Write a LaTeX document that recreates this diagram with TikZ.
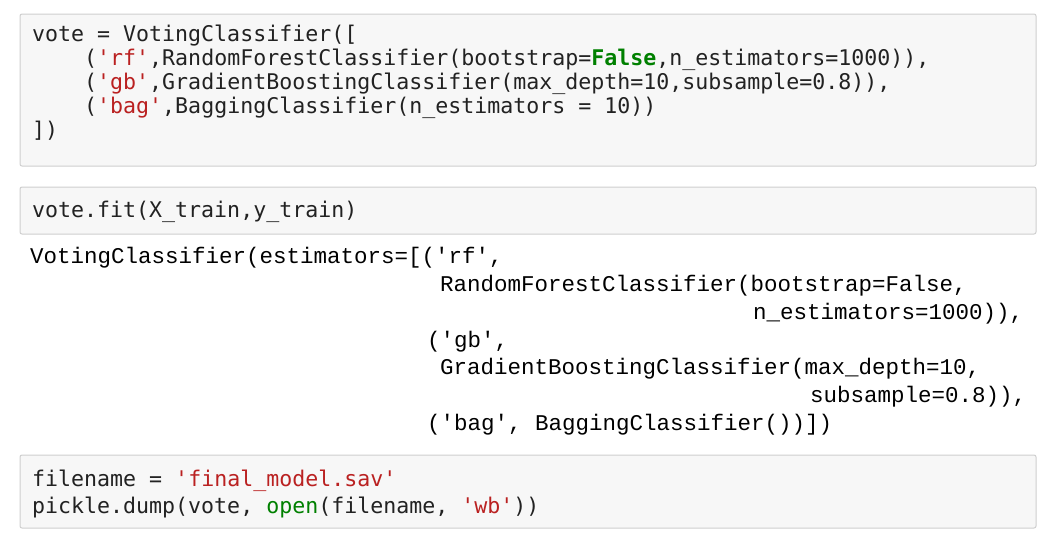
\documentclass[tikz,border=0pt]{standalone}
\usepackage{fontspec}
\newfontfamily\mono{DejaVu Sans Mono}
\newfontfamily\omono{Liberation Mono}
\definecolor{str}{HTML}{BA2121}
\definecolor{kw}{HTML}{008000}
\definecolor{cellbd}{HTML}{CFCFCF}
\definecolor{cellbg}{HTML}{F7F7F7}
\definecolor{txt}{HTML}{222222}
\newcommand{\st}[1]{\textcolor{str}{#1}}
\tikzset{
  cell/.style={draw=cellbd, fill=cellbg, rounded corners=2pt, line width=1pt},
  ln/.style={anchor=base west, inner sep=0pt, text=txt, font=\mono\fontsize{21.6}{24}\selectfont},
  outln/.style={ln, text=black, font=\omono\fontsize{22.5}{24}\selectfont}
}
\begin{document}
\begin{tikzpicture}[x=1pt,y=-1pt]
\useasboundingbox (0,0) rectangle (1057,542);
\fill[white] (0,0) rectangle (1057,542);
\draw[cell] (20,14) rectangle (1036,166);
\draw[cell] (20,187) rectangle (1036,234);
\draw[cell] (20,455) rectangle (1036,528);
\node[ln] (a1) at (32,41) {vote = VotingClassifier([};
\node[ln] (a2) at (32,65) {\ \ \ \ (\st{'rf'},RandomForestClassifier(bootstrap=\textcolor{kw}{\bfseries False},n\_estimators=1000)),};
\node[ln] (a3) at (32,89) {\ \ \ \ (\st{'gb'},GradientBoostingClassifier(max\_depth=10,subsample=0.8)),};
\node[ln] (a4) at (32,113) {\ \ \ \ (\st{'bag'},BaggingClassifier(n\_estimators = 10))};
\node[ln] (a5) at (32,137) {])};
\node[ln] (b1) at (32,217) {vote.fit(X\_train,y\_train)};
\node[outln] (c1) at (30,263) {VotingClassifier(estimators=[('rf',};
\node[outln] (c2) at (440,291) {RandomForestClassifier(bootstrap=False,};
\node[outln] (c3) at (753,319) {n\_estimators=1000)),};
\node[outln] (c4) at (427,347) {('gb',};
\node[outln] (c5) at (440,374) {GradientBoostingClassifier(max\_depth=10,};
\node[outln] (c6) at (810,402) {subsample=0.8)),};
\node[outln] (c7) at (427,430) {('bag', BaggingClassifier())])};
\node[ln] (d1) at (32,486) {filename = \st{'final\_model.sav'}};
\node[ln] (d2) at (32,513) {pickle.dump(vote, \textcolor{kw}{open}(filename, \st{'wb'}))};
\end{tikzpicture}
\end{document}
